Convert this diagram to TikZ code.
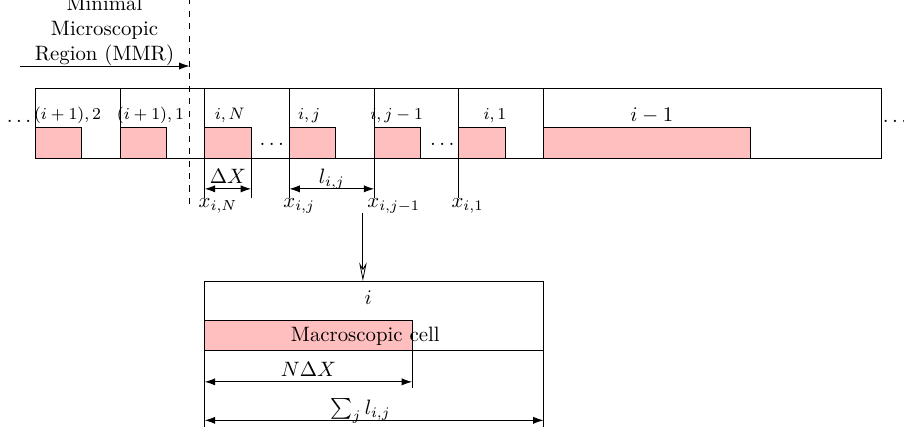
\documentclass[tikz,border=0pt]{standalone}
\usetikzlibrary{arrows.meta}
\definecolor{cellpink}{RGB}{255,191,191}
\tikzset{
  pinkbox/.style={draw, fill=cellpink},
  dimline/.style={{Latex[length=5pt,width=3.5pt]}-{Latex[length=5pt,width=3.5pt]}},
  dimlabel/.style={anchor=base, yshift=2.8pt, inner sep=0pt},
  celllabel/.style={anchor=base, inner sep=0pt, font=\footnotesize},
  ticklabel/.style={anchor=north west, inner sep=0pt}
}
\begin{document}
\begin{tikzpicture}[line width=0.4pt]
  \useasboundingbox (-0.60,-4.63) rectangle (14.67,2.67);
  % microscopic strip
  \coordinate (S) at (0,0); \coordinate (T) at (14.28,1.17);
  \draw (S) rectangle (T);
  \foreach \x in {0,1.43,2.86,4.29,5.72,7.15} \draw[pinkbox] (\x,0) rectangle ++(0.78,0.51);
  \draw[pinkbox] (8.58,0) rectangle ++(3.50,0.51);
  \foreach \x in {1.43,2.86,4.29,5.72,7.15,8.58} \draw (\x,0) -- (\x,1.17);
  \node[celllabel] (L1) at (0.54,0.65) {$(i+1),2$};
  \node[celllabel] (L2) at (1.94,0.65) {$(i+1),1$};
  \node[celllabel] (L3) at (3.28,0.65) {$i,N$};
  \node[celllabel] (L4) at (4.62,0.65) {$i,j$};
  \node[celllabel] (L5) at (6.10,0.65) {$i,j-1$};
  \node[celllabel] (L6) at (7.76,0.65) {$i,1$};
  \node[anchor=base, inner sep=0pt] (L7) at (10.41,0.61) {$i-1$};
  \node[anchor=base, inner sep=0pt] (D1) at (-0.28,0.60) {$\dots$};
  \node[anchor=base, inner sep=0pt] (D2) at (14.52,0.60) {$\dots$};
  \node[anchor=base, inner sep=0pt] (D3) at (3.99,0.22) {$\dots$};
  \node[anchor=base, inner sep=0pt] (D4) at (6.87,0.22) {$\dots$};
  % minimal microscopic region
  \draw[dashed] (2.60,2.70) -- (2.60,-0.80);
  \coordinate (R1) at (-0.27,1.555); \coordinate (R2) at (2.60,1.555);
  \draw[-{Latex[length=5pt,width=3.5pt]}] (R1) -- node[above, align=center, inner sep=2pt, yshift=-2.2pt] (MMR) {Minimal\\Microscopic\\Region (MMR)} (R2);
  % positions and widths
  \coordinate (XN) at (2.86,-0.68); \coordinate (XR) at (3.64,-0.68); \coordinate (XJ) at (4.29,-0.68);
  \coordinate (XJ1) at (5.72,-0.68); \coordinate (X1) at (7.15,-0.68);
  \foreach \c in {XN,XR,XJ,XJ1,X1} \draw (\c) -- ++(0,0.68);
  \draw[dimline] (2.86,-0.52) -- node[dimlabel] (DX) {$\Delta X$} (3.64,-0.52);
  \draw[dimline] (4.29,-0.52) -- node[dimlabel] (LIJ) {$l_{i,j}$} (5.72,-0.52);
  \node[ticklabel] (TXN) at ([xshift=-0.11cm]XN) {$x_{i,N}$};
  \node[ticklabel] (TXJ) at ([xshift=-0.11cm]XJ) {$x_{i,j}$};
  \node[ticklabel] (TXJ1) at ([xshift=-0.12cm]XJ1) {$x_{i,j-1}$};
  \node[ticklabel] (TX1) at ([xshift=-0.13cm]X1) {$x_{i,1}$};
  % macroscopic cell
  \coordinate (A) at (5.53,-0.92); \coordinate (B) at (5.53,-2.08);
  \draw[-{Stealth[open, length=9pt, width=3.6pt]}] (A) -- (B);
  \coordinate (M) at (2.86,-3.25); \coordinate (N) at (8.58,-2.08);
  \draw (M) rectangle (N);
  \draw[pinkbox] (M) rectangle ++(3.50,0.51);
  \node[anchor=base, inner sep=0pt] (I) at (5.62,-2.48) {$i$};
  \node[anchor=base, inner sep=0pt] (MC) at (5.57,-3.10) {Macroscopic cell};
  \draw (6.36,-2.74) -- (6.36,-3.89);
  \draw (M) -- (2.86,-4.54);
  \draw (8.58,-3.25) -- (8.58,-4.54);
  \draw[dimline] (2.86,-3.78) -- node[dimlabel] (NDX) {$N\Delta X$} (6.36,-3.78);
  \draw[dimline] (2.86,-4.43) -- node[dimlabel, pos=0.46] (SUM) {$\sum_j l_{i,j}$} (8.58,-4.43);
\end{tikzpicture}
\end{document}
